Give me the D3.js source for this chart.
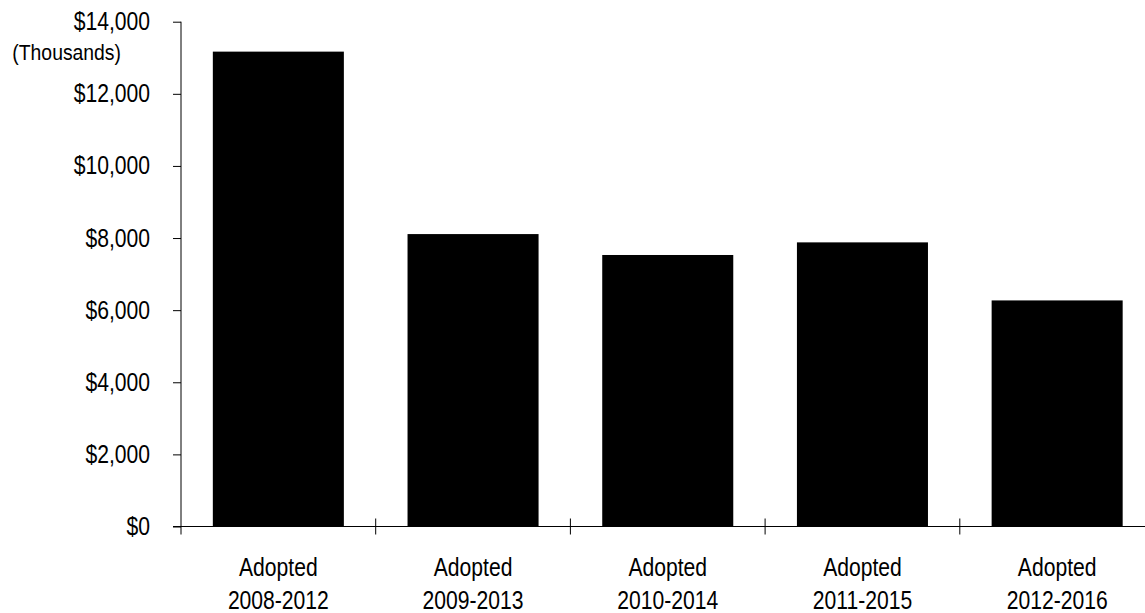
<!DOCTYPE html>
<html>
<head>
<meta charset="utf-8">
<script src="https://cdn.jsdelivr.net/npm/d3@7"></script>
<style>
    body { margin: 0; background: #fff; }
    svg text { font-family: "Liberation Sans", Arial, sans-serif; fill: #000; }
</style>
</head>
<body>
<div id="chart"></div>
<script>

// values in thousands of dollars
let categories = ["Adopted 2008-2012", "Adopted 2009-2013", "Adopted 2010-2014", "Adopted 2011-2015", "Adopted 2012-2016"];
let values = [13170, 8110, 7530, 7880, 6270];
let yTicks = [0, 2000, 4000, 6000, 8000, 10000, 12000, 14000];

const width = 1145;
const height = 613;

const margin = { top: 21.7, left: 181, bottom: 86.5 };
const plotRight = 1154.5;
// the original uses a narrow face, so squeeze the regular one
const squeeze = 0.845;

const svg = d3.select("#chart").append("svg")
    .attr("width", width)
    .attr("height", height);

const x = d3.scaleBand()
    .domain(categories)
    .range([margin.left, plotRight])
    .paddingInner(0.327)
    .paddingOuter(0.1635);

const y = d3.scaleLinear()
    .domain([0, 14000])
    .range([height - margin.bottom, margin.top]);

const fmt = d => "$" + d3.format(",")(d);

// bars
svg.append("g")
    .selectAll("rect")
    .data(values)
    .enter().append("rect")
    .attr("x", (d, i) => x(categories[i]))
    .attr("y", d => y(d))
    .attr("width", x.bandwidth())
    .attr("height", d => y(0) - y(d))
    .attr("fill", "#000");

// y axis
const yAxis = d3.axisLeft(y)
    .tickValues(yTicks)
    .tickFormat(fmt)
    .tickSizeInner(8)
    .tickSizeOuter(0)
    .tickPadding(22);

const gy = svg.append("g")
    .attr("transform", `translate(${margin.left},0)`)
    .call(yAxis)
    .attr("font-family", null)
    .attr("font-size", null);

gy.select(".domain").remove();
gy.append("line")
    .attr("x1", 0).attr("x2", 0)
    .attr("y1", y(14000)).attr("y2", y(0) + 8)
    .attr("stroke", "#000");
gy.selectAll(".tick line").attr("stroke", "#000");
gy.selectAll(".tick text")
    .attr("x", 0)
    .attr("transform", `translate(-31,0) scale(${squeeze},1)`)
    .attr("font-size", 25)
    .attr("fill", "#000");

svg.append("text")
    .attr("transform", "translate(121,60) scale(0.88,1)")
    .attr("text-anchor", "end")
    .attr("font-size", 22)
    .text("(Thousands)");

// x axis
const gx = svg.append("g");

gx.append("line")
    .attr("x1", margin.left - 8).attr("x2", width)
    .attr("y1", y(0)).attr("y2", y(0))
    .attr("stroke", "#000");

gx.selectAll(".xtick")
    .data(categories.slice(1))
    .enter().append("line")
    .attr("class", "xtick")
    .attr("x1", d => x(d) - x.step() * x.paddingInner() / 2)
    .attr("x2", d => x(d) - x.step() * x.paddingInner() / 2)
    .attr("y1", y(0) - 8)
    .attr("y2", y(0) + 8)
    .attr("stroke", "#000");

const labels = gx.selectAll(".xlabel")
    .data(categories)
    .enter().append("text")
    .attr("class", "xlabel")
    .attr("text-anchor", "middle")
    .attr("font-size", 25)
    .attr("transform", d => `translate(${x(d) + x.bandwidth() / 2},${y(0)}) scale(${squeeze},1)`);

labels.append("tspan")
    .attr("x", 0)
    .attr("y", 50)
    .text(d => d.split(" ")[0]);

labels.append("tspan")
    .attr("x", 0)
    .attr("y", 82.5)
    .text(d => d.split(" ")[1]);

</script>
</body>
</html>
